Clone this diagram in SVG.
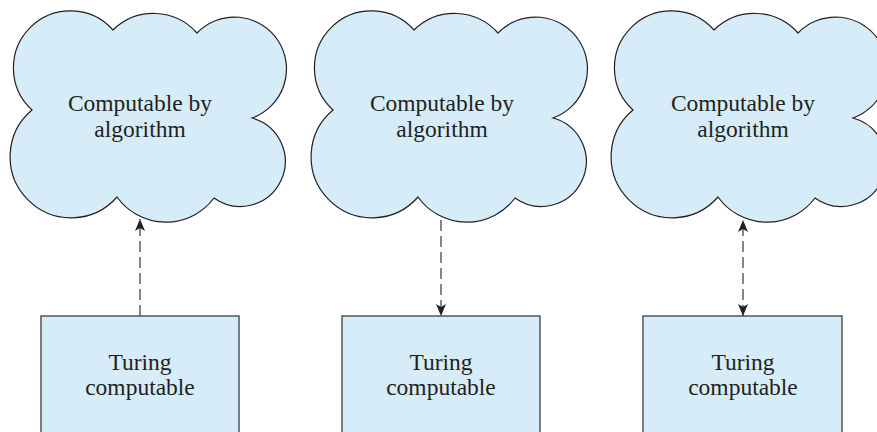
<svg xmlns="http://www.w3.org/2000/svg" width="877" height="432" viewBox="0 0 877 432">
<style>
.cloud{fill:#d6ecf9;stroke:#231f20;stroke-width:1.2}
.box{fill:#d6ecf9;stroke:#555;stroke-width:1.5}
.t{font-family:"Liberation Serif","Times New Roman",serif;font-size:23.5px;fill:#231f20;text-anchor:middle}
.conn{stroke:#444;stroke-width:1.3;stroke-dasharray:11 5;fill:none}
</style>
<defs>
<path id="cloudShape" d="M32,110 A57,57 0 1,1 113,30 A58,58 0 0,1 197,33 A52,52 0 1,1 252,118 A45,45 0 1,1 214,198 A60,60 0 0,1 117,197 A61,61 0 1,1 32,110 Z"/>
<marker id="ah" viewBox="0 0 12 10" refX="12" refY="5" markerWidth="12" markerHeight="10" markerUnits="userSpaceOnUse" orient="auto-start-reverse">
<path d="M0,0 L12,5 L0,10 L3,5 Z" fill="#231f20"/>
</marker>
</defs>
<rect width="877" height="432" fill="#fff"/>
<g id="cloud1">
<use href="#cloudShape" class="cloud"/>
<text class="t" x="140" y="111">Computable by</text>
<text class="t" x="140" y="137">algorithm</text>
</g>
<g id="cloud2">
<use href="#cloudShape" class="cloud" transform="translate(301,0)"/>
<text class="t" x="442" y="111">Computable by</text>
<text class="t" x="442" y="137">algorithm</text>
</g>
<g id="cloud3">
<use href="#cloudShape" class="cloud" transform="translate(601,0)"/>
<text class="t" x="743" y="111">Computable by</text>
<text class="t" x="743" y="137">algorithm</text>
</g>
<g id="box1">
<rect class="box" x="41" y="316" width="198" height="130"/>
<text class="t" x="140" y="370">Turing</text>
<text class="t" x="140" y="395">computable</text>
</g>
<g id="box2">
<rect class="box" x="342" y="316" width="198" height="130"/>
<text class="t" x="441" y="370">Turing</text>
<text class="t" x="441" y="395">computable</text>
</g>
<g id="box3">
<rect class="box" x="643" y="316" width="199" height="130"/>
<text class="t" x="743" y="370">Turing</text>
<text class="t" x="743" y="395">computable</text>
</g>
<g id="connectors">
<line class="conn" x1="140" y1="316" x2="140" y2="219" marker-end="url(#ah)"/>
<line class="conn" x1="441" y1="220" x2="441" y2="316" marker-end="url(#ah)"/>
<line class="conn" x1="743" y1="316" x2="743" y2="220" marker-end="url(#ah)" marker-start="url(#ah)"/>
</g>
</svg>
